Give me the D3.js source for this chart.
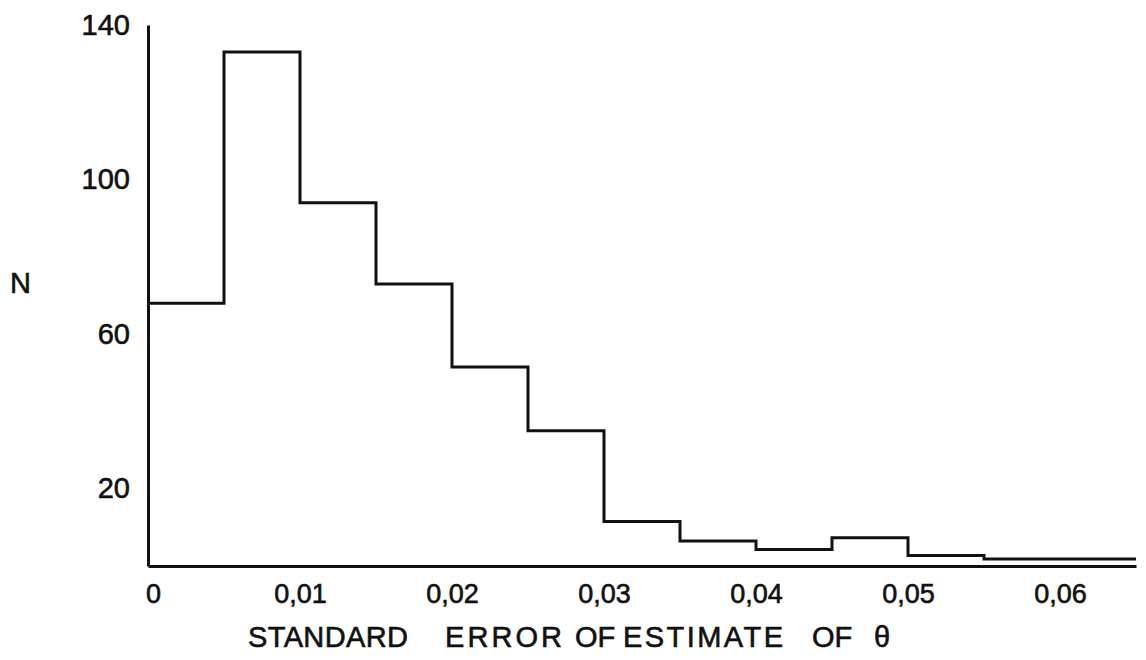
<!DOCTYPE html>
<html>
<head>
<meta charset="utf-8">
<script src="https://cdn.jsdelivr.net/npm/d3@7"></script>
<style>
  html, body { margin: 0; padding: 0; background: #fff; }
  svg { display: block; }
  text { font-family: "Liberation Sans", Arial, sans-serif; fill: #111; stroke: #111; stroke-width: 0.6px; }
</style>
</head>
<body>
<svg id="chart" width="1146" height="660"></svg>
<script>
// Bin edges (standard error of estimate of theta) and counts N
const binStarts = [0, 0.005, 0.01, 0.015, 0.02, 0.025, 0.03, 0.035, 0.04, 0.045, 0.05, 0.055, 0.06];
const binWidth = 0.005;
const counts = [68, 133, 94, 73, 51.5, 35, 11.5, 6.5, 4.3, 7.3, 2.7, 1.8, 1.8];
const xTicks = [0, 0.01, 0.02, 0.03, 0.04, 0.05, 0.06];
const yTicks = [20, 60, 100, 140];
const yLabel = "N";
const xTitleWords = ["STANDARD", "ERROR", "OF", "ESTIMATE", "OF", "θ"];
const xTitleStarts = [248, 445, 575, 623, 812, 874];
const xTitleWidths = [160, 117, null, 160, null, null];

const svg = d3.select("#chart");
const x = d3.scaleLinear().domain([0, 0.065]).range([148, 1136]);
const y = d3.scaleLinear().domain([0, 140]).range([566, 25]);

// Y axis
const yAxis = svg.append("g")
  .attr("transform", `translate(${x(0)},0)`)
  .call(d3.axisLeft(y).tickValues(yTicks).tickSize(0).tickSizeOuter(0).tickPadding(18).tickFormat(d3.format("d")));
yAxis.select(".domain").attr("stroke", "#111").attr("stroke-width", 3);
yAxis.selectAll("text").attr("font-size", 29).attr("font-family", "Liberation Sans, Arial, sans-serif").attr("fill", "#111");

// X axis
const fmt = d => d === 0 ? "0" : d3.format(".2f")(d).replace(".", ",");
const xAxis = svg.append("g")
  .attr("transform", `translate(0,${y(0)})`)
  .call(d3.axisBottom(x).tickValues(xTicks).tickSize(0).tickSizeOuter(0).tickPadding(18).tickFormat(fmt));
xAxis.select(".domain").attr("stroke", "#111").attr("stroke-width", 3);
xAxis.selectAll("text").attr("font-size", 27).attr("font-family", "Liberation Sans, Arial, sans-serif").attr("fill", "#111");
xAxis.selectAll(".tick text").filter(d => d === 0).attr("dx", 5);

// Histogram outline (step line)
const steps = [];
binStarts.forEach((s, i) => {
  steps.push([s, counts[i]]);
  steps.push([s + binWidth, counts[i]]);
});
const line = d3.line().x(d => x(d[0])).y(d => y(d[1]));
svg.append("path")
  .attr("d", line(steps))
  .attr("fill", "none")
  .attr("stroke", "#111")
  .attr("stroke-width", 3)
  .attr("stroke-linejoin", "miter");

// Y label
svg.append("text")
  .attr("x", 10).attr("y", 293)
  .attr("font-size", 29)
  .text(yLabel);

// X title
svg.append("g").selectAll("text")
  .data(xTitleWords)
  .join("text")
  .attr("x", (d, i) => xTitleStarts[i])
  .attr("y", 647)
  .attr("font-size", 29)
  .attr("textLength", (d, i) => xTitleWidths[i])
  .attr("lengthAdjust", (d, i) => xTitleWidths[i] ? "spacing" : null)
  .text(d => d);
</script>
</body>
</html>
